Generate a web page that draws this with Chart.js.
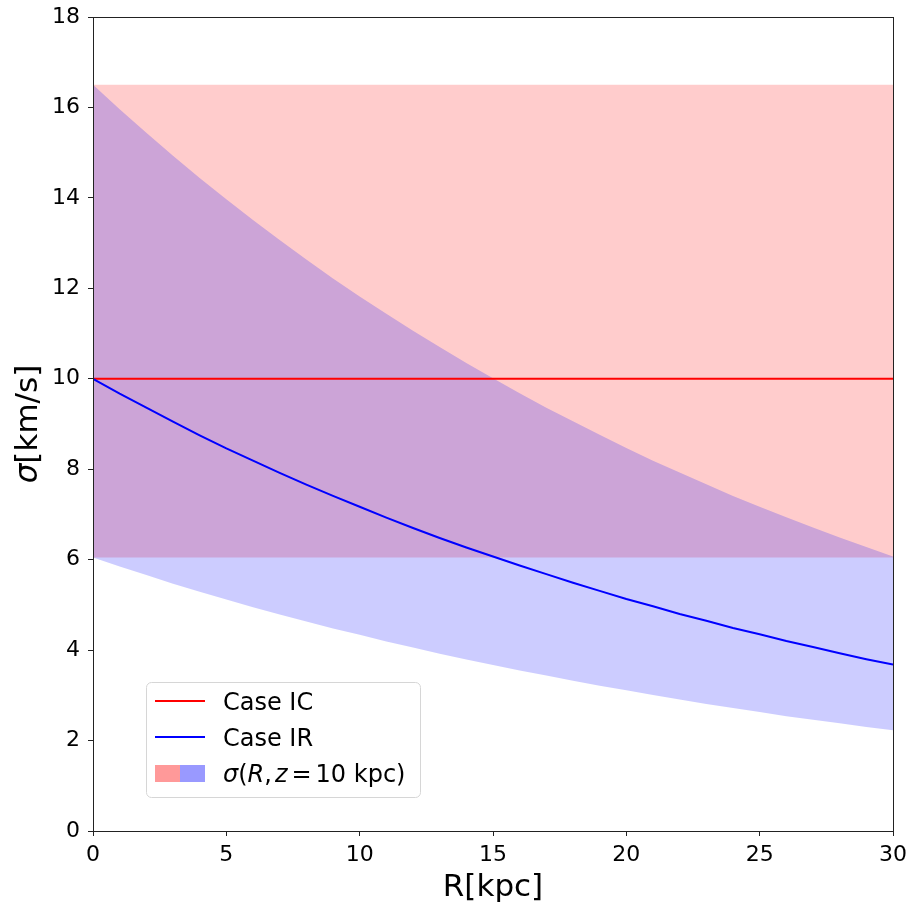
<!DOCTYPE html>
<html>
<head>
<meta charset="utf-8">
<script src="https://cdn.jsdelivr.net/npm/chart.js@4.4.0/dist/chart.umd.min.js"></script>
<style>
  html, body { margin: 0; padding: 0; background: #fff; }
  #wrap { width: 910px; height: 905px; }
</style>
</head>
<body>
<div id="wrap"><canvas id="sigmaChart" width="910" height="905"></canvas></div>
<script>
// R in kpc
const radius = [0, 1, 2, 3, 4, 5, 6, 7, 8, 9, 10, 11, 12, 13, 14, 15,
  16, 17, 18, 19, 20, 21, 22, 23, 24, 25, 26, 27, 28, 29, 30];

// Case IR: sigma decreasing with R
const irSigma = [10.00, 9.67, 9.36, 9.05, 8.75, 8.46, 8.19, 7.92, 7.66, 7.41, 7.17,
  6.93, 6.70, 6.48, 6.27, 6.07, 5.87, 5.68, 5.49, 5.31, 5.13,
  4.97, 4.80, 4.65, 4.49, 4.35, 4.20, 4.07, 3.93, 3.80, 3.68];
const irUpper = [16.50, 15.96, 15.44, 14.93, 14.44, 13.97, 13.51, 13.07, 12.64, 12.22, 11.82,
  11.44, 11.06, 10.70, 10.35, 10.01, 9.68, 9.36, 9.06, 8.76, 8.47,
  8.19, 7.93, 7.67, 7.41, 7.17, 6.94, 6.71, 6.49, 6.28, 6.07];
const irLower = [6.05, 5.85, 5.66, 5.47, 5.29, 5.12, 4.95, 4.79, 4.63, 4.48, 4.34,
  4.19, 4.06, 3.92, 3.79, 3.67, 3.55, 3.44, 3.32, 3.21, 3.11,
  3.01, 2.91, 2.81, 2.72, 2.63, 2.54, 2.46, 2.38, 2.30, 2.23];

// Case IC: constant sigma
const icRadius = [0, 30];
const icSigma = [10, 10];
const icUpper = [16.5, 16.5];
const icLower = [6.05, 6.05];

const xTicks = [0, 5, 10, 15, 20, 25, 30];
const yTicks = [0, 2, 4, 6, 8, 10, 12, 14, 16, 18];

const pts = (xs, ys) => xs.map((x, i) => ({ x: x, y: ys[i] }));

const FONT = "'DejaVu Sans', sans-serif";

// draws pieces of text one after the other, [text, italic, gapAfter]
function drawParts(ctx, parts, x, y, size) {
  parts.forEach(([t, it, gap]) => {
    ctx.font = (it ? 'italic ' : '') + size + 'px ' + FONT;
    ctx.fillText(t, x, y);
    x += ctx.measureText(t).width + (gap || 0);
  });
}
function partsWidth(ctx, parts, size) {
  let w = 0;
  parts.forEach(([t, it, gap]) => {
    ctx.font = (it ? 'italic ' : '') + size + 'px ' + FONT;
    w += ctx.measureText(t).width + (gap || 0);
  });
  return w;
}

// box around the plot, y title, legend in lower left
const framePlugin = {
  id: 'frame',
  afterDraw(chart) {
    const { ctx, chartArea: a } = chart;
    ctx.save();
    ctx.strokeStyle = '#222';
    ctx.lineWidth = 1;
    ctx.strokeRect(Math.round(a.left) + 0.5, Math.round(a.top) + 0.5,
      Math.round(a.right - a.left), Math.round(a.bottom - a.top));

    // y title with italic sigma
    const yt = [['σ', true], ['[km/s]', false]];
    ctx.save();
    ctx.translate(29, (a.top + a.bottom) / 2);
    ctx.rotate(-Math.PI / 2);
    ctx.fillStyle = '#000';
    ctx.textBaseline = 'middle';
    ctx.textAlign = 'left';
    drawParts(ctx, yt, -partsWidth(ctx, yt, 31) / 2, 0, 31);
    ctx.restore();

    // legend
    const bx = 146.5, by = 682.5, bw = 274, bh = 115, r = 5;
    ctx.beginPath();
    ctx.moveTo(bx + r, by);
    ctx.arcTo(bx + bw, by, bx + bw, by + bh, r);
    ctx.arcTo(bx + bw, by + bh, bx, by + bh, r);
    ctx.arcTo(bx, by + bh, bx, by, r);
    ctx.arcTo(bx, by, bx + bw, by, r);
    ctx.closePath();
    ctx.fillStyle = 'rgba(255,255,255,0.8)';
    ctx.fill();
    ctx.strokeStyle = '#d6d6d6';
    ctx.stroke();

    ctx.lineWidth = 2;
    ctx.strokeStyle = '#ff0000';
    ctx.beginPath(); ctx.moveTo(155, 701); ctx.lineTo(205, 701); ctx.stroke();
    ctx.strokeStyle = '#0000ff';
    ctx.beginPath(); ctx.moveTo(155, 737); ctx.lineTo(205, 737); ctx.stroke();
    ctx.fillStyle = '#ff9999';
    ctx.fillRect(155, 765, 25, 17);
    ctx.fillStyle = '#9999ff';
    ctx.fillRect(180, 765, 25, 17);

    ctx.fillStyle = '#000';
    ctx.textBaseline = 'alphabetic';
    ctx.textAlign = 'left';
    ctx.font = '24px ' + FONT;
    ctx.fillText('Case IC', 223, 710);
    ctx.fillText('Case IR', 223, 746);

    // sigma(R, z = 10 kpc) in math style
    drawParts(ctx, [
      ['σ', true], ['(', false], ['R', true], [',', false, 3], ['z', true, 4],
      ['=', false, 4], ['10 kpc)', false]
    ], 223, 782, 24);
    ctx.restore();
  }
};

new Chart(document.getElementById('sigmaChart'), {
  type: 'line',
  data: {
    datasets: [
      { label: 'icUpper', data: pts(icRadius, icUpper), borderWidth: 0, pointRadius: 0, fill: false, order: 6 },
      { label: 'icLower', data: pts(icRadius, icLower), borderWidth: 0, pointRadius: 0,
        fill: '-1', backgroundColor: 'rgba(255,0,0,0.2)', order: 5 },
      { label: 'irUpper', data: pts(radius, irUpper), borderWidth: 0, pointRadius: 0, fill: false, order: 4 },
      { label: 'irLower', data: pts(radius, irLower), borderWidth: 0, pointRadius: 0,
        fill: '-1', backgroundColor: 'rgba(0,0,255,0.2)', order: 3 },
      { label: 'Case IC', data: pts(icRadius, icSigma), borderColor: '#ff0000', borderWidth: 2,
        pointRadius: 0, fill: false, order: 2 },
      { label: 'Case IR', data: pts(radius, irSigma), borderColor: '#0000ff', borderWidth: 2,
        pointRadius: 0, fill: false, order: 1 }
    ]
  },
  options: {
    responsive: false,
    animation: false,
    events: [],
    layout: { padding: { top: 17, right: 17, left: 0, bottom: 0 } },
    plugins: { legend: { display: false }, tooltip: { enabled: false } },
    scales: {
      x: {
        type: 'linear', min: 0, max: 30,
        afterFit: s => { s.height = 74; s.paddingLeft = 0; s.paddingRight = 0; },
        afterBuildTicks: s => { s.ticks = xTicks.map(v => ({ value: v })); },
        grid: { drawOnChartArea: false, tickLength: 5, color: '#222', tickWidth: 1 },
        border: { color: '#222', width: 1 },
        ticks: { color: '#000', padding: 6, maxRotation: 0, font: { family: FONT, size: 22 } },
        title: { display: true, text: 'R[kpc]', color: '#000', padding: { bottom: 2 },
          font: { family: FONT, size: 31, lineHeight: 1.0 } }
      },
      y: {
        type: 'linear', min: 0, max: 18,
        afterFit: s => { s.width = 93; s.paddingTop = 0; s.paddingBottom = 0; },
        afterBuildTicks: s => { s.ticks = yTicks.map(v => ({ value: v })); },
        grid: { drawOnChartArea: false, tickLength: 5, color: '#222', tickWidth: 1 },
        border: { color: '#222', width: 1 },
        ticks: { color: '#000', padding: 8, font: { family: FONT, size: 22 } }
      }
    }
  },
  plugins: [framePlugin]
});
</script>
</body>
</html>
